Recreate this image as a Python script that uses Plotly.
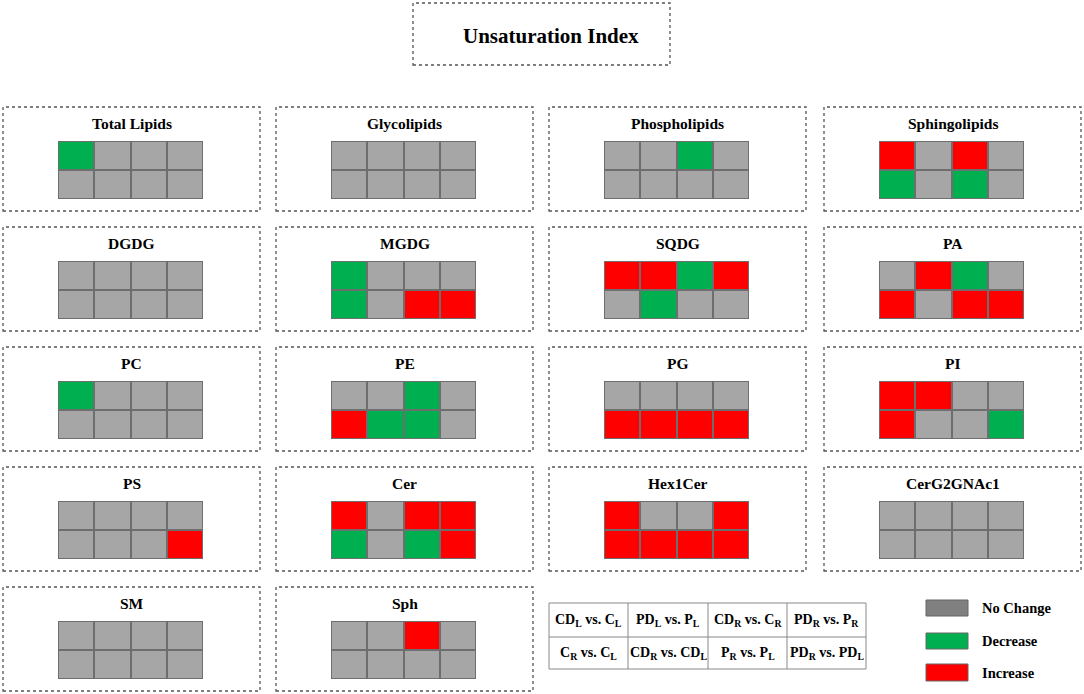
import plotly.graph_objects as go

# ---------------- data ----------------
panel_names = ["Total Lipids", "Glycolipids", "Phospholipids", "Sphingolipids",
               "DGDG", "MGDG", "SQDG", "PA",
               "PC", "PE", "PG", "PI",
               "PS", "Cer", "Hex1Cer", "CerG2GNAc1",
               "SM", "Sph"]
# G = no change, D = decrease, I = increase
top_rows = [
    ["D", "G", "G", "G"], ["G", "G", "G", "G"], ["G", "G", "D", "G"], ["I", "G", "I", "G"],
    ["G", "G", "G", "G"], ["D", "G", "G", "G"], ["I", "I", "D", "I"], ["G", "I", "D", "G"],
    ["D", "G", "G", "G"], ["G", "G", "D", "G"], ["G", "G", "G", "G"], ["I", "I", "G", "G"],
    ["G", "G", "G", "G"], ["I", "G", "I", "I"], ["I", "G", "G", "I"], ["G", "G", "G", "G"],
    ["G", "G", "G", "G"], ["G", "G", "I", "G"],
]
bottom_rows = [
    ["G", "G", "G", "G"], ["G", "G", "G", "G"], ["G", "G", "G", "G"], ["D", "G", "D", "G"],
    ["G", "G", "G", "G"], ["D", "G", "I", "I"], ["G", "D", "G", "G"], ["I", "G", "I", "I"],
    ["G", "G", "G", "G"], ["I", "D", "D", "G"], ["I", "I", "I", "I"], ["I", "G", "G", "D"],
    ["G", "G", "G", "I"], ["D", "G", "D", "I"], ["I", "I", "I", "I"], ["G", "G", "G", "G"],
    ["G", "G", "G", "G"], ["G", "G", "G", "G"],
]
comparison_top = ["CD<sub>L</sub> vs. C<sub>L</sub>", "PD<sub>L</sub> vs. P<sub>L</sub>",
                  "CD<sub>R</sub> vs. C<sub>R</sub>", "PD<sub>R</sub> vs. P<sub>R</sub>"]
comparison_bottom = ["C<sub>R</sub> vs. C<sub>L</sub>", "CD<sub>R</sub> vs. CD<sub>L</sub>",
                     "P<sub>R</sub> vs. P<sub>L</sub>", "PD<sub>R</sub> vs. PD<sub>L</sub>"]
legend_labels = ["No Change", "Decrease", "Increase"]
code_value = {"G": 0, "D": 1, "I": 2}

# ---------------- layout helpers ----------------
W, H = 1084, 694
FONT = "Liberation Serif, Times New Roman, serif"
GRAY, GREEN, RED = "#A6A6A6", "#00B050", "#FF0000"


def px(x):
    return x / W


def py(y):
    return 1 - y / H


col_left = [3, 276, 549, 824]
row_top = [107, 227, 347, 467, 587]
box_w, box_h = 257, 104

fig = go.Figure()
shapes = []
annotations = []
colorscale = [[0, GRAY], [1 / 3, GRAY], [1 / 3, GREEN], [2 / 3, GREEN], [2 / 3, RED], [1, RED]]

for i, name in enumerate(panel_names):
    r, c = divmod(i, 4)
    left, top = col_left[c], row_top[r]
    # dashed panel box
    shapes.append(dict(type="rect", xref="paper", yref="paper",
                       x0=px(left), x1=px(left + box_w), y0=py(top + box_h), y1=py(top),
                       line=dict(color="#555555", width=1.3, dash="dot")))
    annotations.append(dict(text="<b>%s</b>" % name, xref="paper", yref="paper",
                            x=px(left + box_w / 2), y=py(top + 16), showarrow=False,
                            xanchor="center", yanchor="middle",
                            font=dict(family=FONT, size=15.5, color="black")))
    k = i + 1
    xa = "x" if k == 1 else "x%d" % k
    ya = "y" if k == 1 else "y%d" % k
    z = [[code_value[v] for v in top_rows[i]], [code_value[v] for v in bottom_rows[i]]]
    fig.add_trace(go.Heatmap(z=z, x=[0, 1, 2, 3], y=[0, 1], xaxis=xa, yaxis=ya,
                             colorscale=colorscale, zmin=0, zmax=2, showscale=False,
                             xgap=2, ygap=2, hoverinfo="skip"))
    axis_common = dict(showgrid=False, zeroline=False, showticklabels=False,
                       ticks="", showline=False, fixedrange=True)
    fig.layout["xaxis" + ("" if k == 1 else str(k))] = dict(
        domain=[px(left + 55), px(left + 200)], anchor=ya, range=[-0.5, 3.5], **axis_common)
    fig.layout["yaxis" + ("" if k == 1 else str(k))] = dict(
        domain=[py(top + 92), py(top + 34)], anchor=xa, range=[1.5, -0.5], **axis_common)

# main title box
shapes.append(dict(type="rect", xref="paper", yref="paper",
                   x0=px(413), x1=px(670), y0=py(65), y1=py(3),
                   line=dict(color="#555555", width=1.3, dash="dot")))
annotations.append(dict(text="<b>Unsaturation Index</b>", xref="paper", yref="paper",
                        x=px(551), y=py(36), showarrow=False, xanchor="center", yanchor="middle",
                        font=dict(family=FONT, size=21, color="black")))

# comparison key table
tx = [549, 628, 708, 787, 866]
ty = [603, 637, 669]
shapes.append(dict(type="rect", xref="paper", yref="paper",
                   x0=px(tx[0]), x1=px(tx[-1]), y0=py(ty[-1]), y1=py(ty[0]),
                   line=dict(color="#888888", width=1)))
for xv in tx[1:-1]:
    shapes.append(dict(type="line", xref="paper", yref="paper",
                       x0=px(xv), x1=px(xv), y0=py(ty[-1]), y1=py(ty[0]),
                       line=dict(color="#888888", width=1)))
shapes.append(dict(type="line", xref="paper", yref="paper",
                   x0=px(tx[0]), x1=px(tx[-1]), y0=py(ty[1]), y1=py(ty[1]),
                   line=dict(color="#888888", width=1)))
for j in range(4):
    cx = (tx[j] + tx[j + 1]) / 2
    for row_i, labels in enumerate([comparison_top, comparison_bottom]):
        cy = (ty[row_i] + ty[row_i + 1]) / 2
        annotations.append(dict(text="<b>%s</b>" % labels[j], xref="paper", yref="paper",
                                x=px(cx), y=py(cy), showarrow=False,
                                xanchor="center", yanchor="middle",
                                font=dict(family=FONT, size=14, color="black")))

# colour legend
sw_y = [(600, 616), (633, 649), (664, 681)]
sw_fill = ["#808080", GREEN, RED]
for (y0, y1), fill, lab in zip(sw_y, sw_fill, legend_labels):
    shapes.append(dict(type="rect", xref="paper", yref="paper",
                       x0=px(926), x1=px(968), y0=py(y1), y1=py(y0),
                       fillcolor=fill, line=dict(color="#666666", width=1)))
    annotations.append(dict(text="<b>%s</b>" % lab, xref="paper", yref="paper",
                            x=px(980), y=py((y0 + y1) / 2), showarrow=False,
                            xanchor="left", yanchor="middle",
                            font=dict(family=FONT, size=14.5, color="black")))

fig.update_layout(width=W, height=H, margin=dict(l=0, r=0, t=0, b=0),
                  paper_bgcolor="white", plot_bgcolor="#6E6E6E",
                  shapes=shapes, annotations=annotations, showlegend=False)

fig.write_html("out.html", config={"displayModeBar": False},
               post_script="document.body.style.margin='0';document.body.style.padding='0';")
